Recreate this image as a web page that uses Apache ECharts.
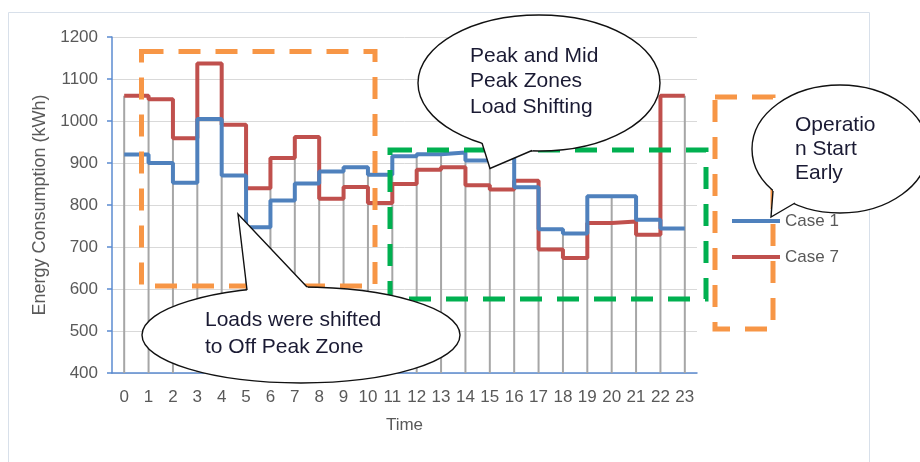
<!DOCTYPE html>
<html>
<head>
<meta charset="utf-8">
<script src="https://cdn.jsdelivr.net/npm/echarts@6/dist/echarts.min.js"></script>
<style>
html,body{margin:0;padding:0;background:#fff;}
#chart{width:920px;height:462px;}
</style>
</head>
<body>
<div id="chart"></div>
<script>
const hours = ['0','1','2','3','4','5','6','7','8','9','10','11','12','13','14','15','16','17','18','19','20','21','22','23'];
const case1 = [920, 900, 853, 1005, 870, 747, 811, 851, 880, 890, 872, 916, 921, 925, 906, 912, 842, 742, 732, 821, 821, 765, 744, 744];
const case7 = [1060, 1052, 959, 1137, 991, 840, 912, 962, 815, 843, 805, 850, 884, 890, 847, 837, 858, 694, 674, 757, 761, 729, 1060, 1060];
const seriesNames = ['Case 1', 'Case 7'];
const yMin = 400, yMax = 1200, yStep = 100;

const dropTops = hours.map((h, i) => {
  const vals = [case1[i], case7[i]];
  if (i > 0) { vals.push(case1[i - 1], case7[i - 1]); }
  return [i, Math.max.apply(null, vals)];
});

const FONT = 'Liberation Sans, Arial, sans-serif';
const TXT = '#1a1a33';

function callout(cx, cy, rx, ry, tip, b1, b2) {
  const ext = (b) => {
    const dx = b[0] - tip[0], dy = b[1] - tip[1];
    const L = Math.sqrt(dx * dx + dy * dy);
    return [b[0] + dx / L * 7, b[1] + dy / L * 7];
  };
  return [
    { type: 'ellipse', z: 20, shape: { cx: cx, cy: cy, rx: rx, ry: ry },
      style: { fill: '#fff', stroke: '#111', lineWidth: 1.4 } },
    { type: 'polygon', z: 21, shape: { points: [ext(b1), tip, ext(b2)] },
      style: { fill: '#fff', stroke: null } },
    { type: 'polyline', z: 22, shape: { points: [b1, tip, b2] },
      style: { fill: null, stroke: '#111', lineWidth: 1.4 } }
  ];
}

function dashedRect(x, y, w, h, color) {
  return { type: 'rect', z: 15, shape: { x: x, y: y, width: w, height: h },
    style: { fill: null, stroke: color, lineWidth: 5, lineDash: [22, 15] } };
}

const graphics = [].concat(
  [{ type: 'rect', z: -10, shape: { x: 8.5, y: 12.5, width: 861, height: 480 },
     style: { fill: null, stroke: '#D8E0EA', lineWidth: 1 } }],
  [dashedRect(141.5, 51.5, 233.5, 234.5, '#F79646'),
   dashedRect(390, 150, 316, 149, '#00B050'),
   dashedRect(715, 97, 58, 232, '#F79646')],
  callout(539, 83, 121, 68, [490, 168.5], [482, 143], [532, 150.5]),
  callout(840, 149, 88, 64, [771, 217], [773, 191], [795, 203]),
  callout(301, 335, 159, 48, [238, 214], [247, 290], [307, 287]),
  [
    { type: 'text', z: 30, style: { text: 'Peak and Mid\nPeak Zones\nLoad Shifting', x: 470, y: 43,
      font: '21px ' + FONT, fill: TXT, lineHeight: 25.5, verticalAlign: 'top', align: 'left' } },
    { type: 'text', z: 30, style: { text: 'Operatio\nn Start\nEarly', x: 795, y: 113,
      font: '21px ' + FONT, fill: TXT, lineHeight: 24.2, verticalAlign: 'top', align: 'left' } },
    { type: 'text', z: 30, style: { text: 'Loads were shifted\nto Off Peak Zone', x: 205, y: 307,
      font: '21px ' + FONT, fill: TXT, lineHeight: 26.7, verticalAlign: 'top', align: 'left' } }
  ]
);

const chart = echarts.init(document.getElementById('chart'), null, { renderer: 'canvas' });
chart.setOption({
  animation: false,
  backgroundColor: '#ffffff',
  color: ['#4F81BD', '#C0504D'],
  grid: { left: 112, top: 37, width: 585, height: 336, containLabel: false },
  legend: {
    data: seriesNames,
    orient: 'vertical',
    left: 732,
    top: 211,
    padding: 0,
    icon: 'rect',
    itemWidth: 48,
    itemHeight: 4,
    itemGap: 16,
    textStyle: { color: '#595959', fontSize: 17, fontFamily: FONT, lineHeight: 20 }
  },
  xAxis: {
    type: 'category',
    data: hours,
    boundaryGap: true,
    name: 'Time',
    nameLocation: 'middle',
    nameGap: 44,
    nameTextStyle: { color: '#595959', fontSize: 17, fontFamily: FONT },
    axisLine: { show: true, lineStyle: { color: '#5B8BD0', width: 1.5 } },
    axisTick: { show: false },
    axisLabel: { interval: 0, color: '#595959', fontSize: 17, fontFamily: FONT, margin: 16 },
    splitLine: { show: false }
  },
  yAxis: {
    type: 'value',
    min: yMin,
    max: yMax,
    interval: yStep,
    name: 'Energy Consumption (kWh)',
    nameLocation: 'middle',
    nameGap: 58,
    nameTextStyle: { color: '#595959', fontSize: 18, fontFamily: FONT },
    axisLine: { show: true, lineStyle: { color: '#5B8BD0', width: 1.5 } },
    axisTick: { show: true, length: 5, inside: false, lineStyle: { color: '#5B8BD0', width: 1.5 } },
    axisLabel: { color: '#595959', fontSize: 17, fontFamily: FONT, margin: 14,
      formatter: function (v) { return String(v); } },
    splitLine: { show: true, lineStyle: { color: '#D9D9D9', width: 1 } }
  },
  series: [
    {
      name: 'drop',
      type: 'custom',
      z: 1,
      silent: true,
      data: dropTops,
      renderItem: function (params, api) {
        const x = api.value(0);
        const top = api.coord([x, api.value(1)]);
        const bot = api.coord([x, yMin]);
        return { type: 'line', shape: { x1: top[0], y1: top[1], x2: bot[0], y2: bot[1] },
          style: { stroke: '#A6A6A6', lineWidth: 2 } };
      }
    },
    {
      name: seriesNames[0],
      type: 'line',
      step: 'end',
      symbol: 'none',
      z: 3,
      data: case1,
      lineStyle: { width: 4, color: '#4F81BD' },
      itemStyle: { color: '#4F81BD' }
    },
    {
      name: seriesNames[1],
      type: 'line',
      step: 'end',
      symbol: 'none',
      z: 2,
      data: case7,
      lineStyle: { width: 4, color: '#C0504D' },
      itemStyle: { color: '#C0504D' }
    }
  ],
  graphic: { elements: graphics }
});
</script>
</body>
</html>
